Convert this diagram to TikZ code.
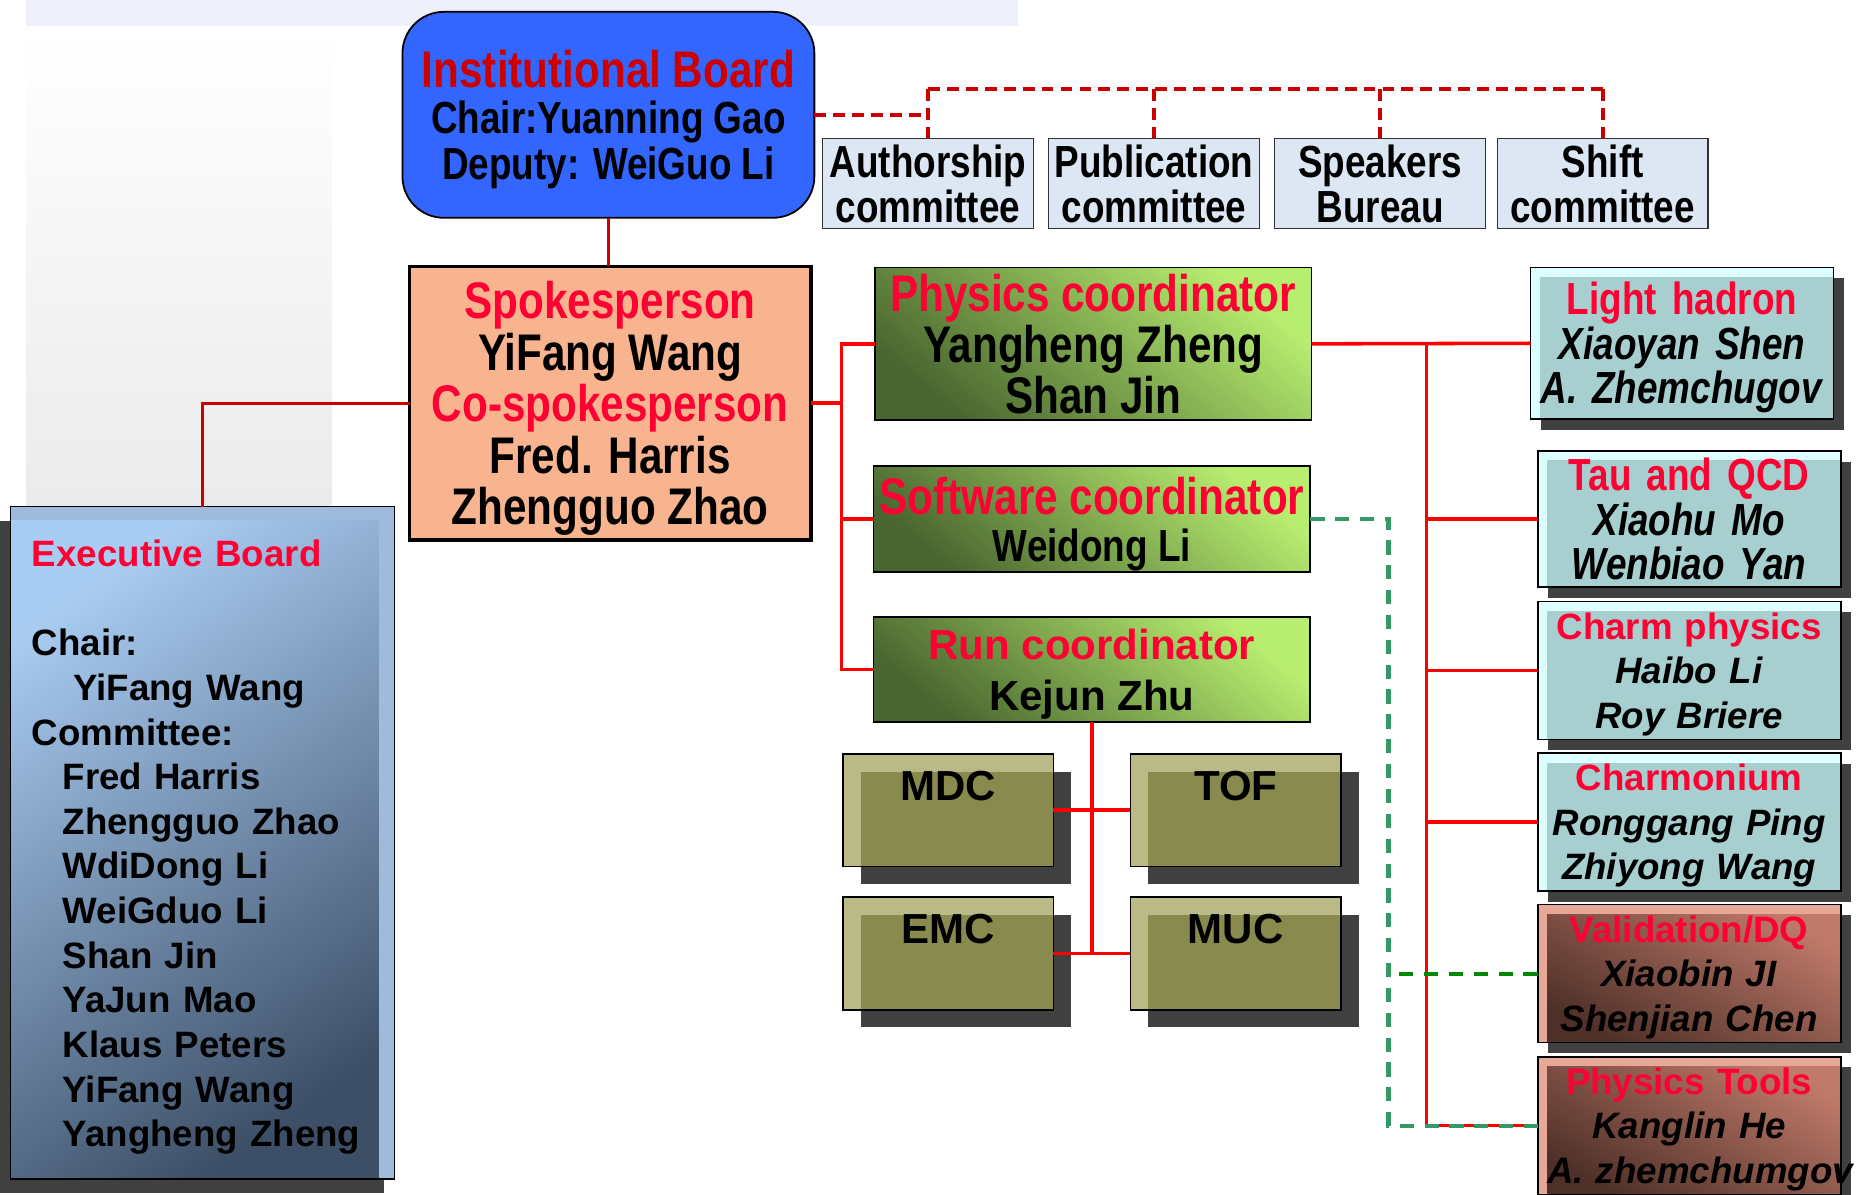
\documentclass[tikz,border=0pt]{standalone}
\usepackage{fontspec}
\setmainfont{Liberation Sans}
\newfontfamily\narrowf[FakeStretch=0.82]{Liberation Sans}
\usepackage{xcolor}
\usepackage{tikz}
\usetikzlibrary{positioning}
\usetikzlibrary{shadows}
\setlength{\parindent}{0pt}
\definecolor{boardblue}{HTML}{3366FF}
\definecolor{darkred}{HTML}{CC0000}
\definecolor{titlered}{HTML}{FF0033}
\definecolor{brightred}{HTML}{FF0000}
\definecolor{spfill}{HTML}{F7B48F}
\definecolor{commfill}{HTML}{DCE7F3}
\definecolor{lightgreen}{HTML}{B8EE70}
\definecolor{darkgreen}{HTML}{4A6630}
\definecolor{olivelight}{HTML}{B9BA86}
\definecolor{olivedark}{HTML}{888A4E}
\definecolor{shadowgray}{HTML}{404040}
\definecolor{cyanlight}{HTML}{DDFFFF}
\definecolor{cyandark}{HTML}{A8CFCF}
\definecolor{brownlight}{HTML}{E8A898}
\definecolor{browntop}{HTML}{C07A6A}
\definecolor{brownbot}{HTML}{4E3028}
\definecolor{execlight}{HTML}{A9CCF2}
\definecolor{execdark}{HTML}{3D4F67}
\definecolor{execframe}{HTML}{9FBBDB}
\definecolor{bandblue}{HTML}{EEF1FB}
\definecolor{seagreen}{HTML}{339966}
\definecolor{dashgreen}{HTML}{008800}
\tikzset {
  % one point per pixel, y runs downwards
  x=1pt, y=-1pt,
  % institutional board
  board/.style={draw, line width=1.5pt, fill=boardblue, rounded corners=35pt,
    minimum width=348pt, minimum height=174pt, align=center, outer sep=0pt, text depth=0pt,
    font=\narrowf\bfseries\fontsize{38}{39}\selectfont},
  % committees under the board
  comm/.style={draw=black!80, line width=1pt, fill=commfill, minimum width=178pt,
    minimum height=76pt, inner sep=2pt, align=center, outer sep=0pt,
    font=\narrowf\bfseries\fontsize{38}{38}\selectfont},
  % spokesperson box
  spokes/.style={draw, line width=3pt, fill=spfill, minimum width=339pt,
    minimum height=231pt, align=center, outer sep=0pt, text depth=0pt,
    font=\narrowf\bfseries\fontsize{43.5}{43.5}\selectfont},
  % executive board with its shadow
  exec/.style={draw, line width=1pt, fill=execframe, minimum height=568pt,
    text width=288pt, inner xsep=18pt, align=left, outer sep=0pt, text height=30pt,
    drop shadow={shadow xshift=-9pt, shadow yshift=-12pt, fill=shadowgray, opacity=1},
    path picture={\shade[top color=execlight, bottom color=execdark, shading angle=35]
      ([yshift=-12pt]path picture bounding box.north west) rectangle
      ([xshift=-13pt]path picture bounding box.south east);},
    font=\bfseries\fontsize{31}{37.7}\selectfont},
  % green coordinator boxes
  coord/.style={draw, line width=1.5pt, top color=lightgreen, bottom color=darkgreen,
    shading angle=-40, minimum width=369pt, align=center, outer sep=0pt, text depth=0pt},
  bignarrow/.style={font=\narrowf\bfseries\fontsize{43.5}{43}\selectfont},
  bigwide/.style={font=\bfseries\fontsize{35.5}{43}\selectfont},
  % sub-detectors
  det/.style={draw, line width=1.5pt, fill=olivelight, minimum width=178pt,
    minimum height=95pt, inner sep=6pt, text height=33pt, text depth=49pt, outer sep=0pt,
    drop shadow={shadow xshift=15pt, shadow yshift=-15pt, fill=shadowgray, opacity=1},
    path picture={\fill[olivedark] ([xshift=15pt,yshift=-15pt]path picture bounding box.north west)
      rectangle (path picture bounding box.south east);},
    font=\bfseries\fontsize{35.5}{35.5}\selectfont},
  % physics groups
  group/.style={draw, line width=1.5pt, fill=cyanlight, text width=240pt, inner xsep=8pt,
    minimum height=115pt, align=center, outer sep=0pt,
    drop shadow={shadow xshift=9pt, shadow yshift=-9pt, fill=shadowgray, opacity=1},
    path picture={\fill[cyandark] ([xshift=8pt,yshift=-8pt]path picture bounding box.north west)
      rectangle (path picture bounding box.south east);}},
  valid/.style={group, fill=brownlight,
    path picture={\shade[top color=browntop, bottom color=brownbot, shading angle=-30]
      ([xshift=8pt,yshift=-8pt]path picture bounding box.north west)
      rectangle (path picture bounding box.south east);}},
  narrowtext/.style={font=\narrowf\bfseries\fontsize{38}{37.5}\selectfont},
  widetext/.style={text height=28.5pt, font=\bfseries\fontsize{31}{37.5}\selectfont},
  % connectors
  redline/.style={darkred, line width=2.5pt},
  reddash/.style={darkred, line width=3.5pt, dash pattern=on 10pt off 6pt},
  physline/.style={brightred, line width=3pt},
  greendash/.style={seagreen, line width=3.5pt, dash pattern=on 12pt off 9pt},
}
\begin{document}
\begin{tikzpicture}
  \useasboundingbox (0,0) rectangle (1568,1009);
  \fill[bandblue] (22,0) rectangle (860,22);
  \shade[top color=white, bottom color=black!8] (22,22) rectangle (280,430);

  \node[board] (ib) at (514,97) {{\fontsize{43.5}{39}\selectfont\color{darkred}Institutional Board}\\
    Chair:Yuanning Gao\\ Deputy: WeiGuo Li};

  \node[comm] (auth) at (784,155) {Authorship\\committee};
  \node[comm] (pub) [right=13pt of auth] {Publication\\committee};
  \node[comm] (spk) [right=13pt of pub] {Speakers\\Bureau};
  \node[comm] (shift) [right=10pt of spk] {Shift\\committee};

  \node[spokes] (sp) at (515.5,340.5) {\textcolor{titlered}{Spokesperson}\\ YiFang Wang\\
    \textcolor{titlered}{Co-spokesperson}\\ Fred. Harris\\ Zhengguo Zhao};

  \node[exec] (eb) at (171,712) {\textcolor{titlered}{Executive Board}\\
    \mbox{}\\
    Chair:\\
    \hspace*{35pt}YiFang Wang\\
    Committee:\\
    \hspace*{26pt}Fred Harris\\
    \hspace*{26pt}Zhengguo Zhao\\
    \hspace*{26pt}WdiDong Li\\
    \hspace*{26pt}WeiGduo Li\\
    \hspace*{26pt}Shan Jin\\
    \hspace*{26pt}YaJun Mao\\
    \hspace*{26pt}Klaus Peters\\
    \hspace*{26pt}YiFang Wang\\
    \hspace*{26pt}Yangheng Zheng};

  \node[coord, bignarrow, minimum height=129pt] (phys) at (923.5,290.5)
    {\textcolor{titlered}{Physics coordinator}\\ Yangheng Zheng\\ Shan Jin};
  \node[coord, bignarrow, minimum height=89pt, font=\narrowf\bfseries\fontsize{38}{40}\selectfont] (soft) at (922.5,438.5)
    {{\fontsize{43.5}{40}\selectfont\color{titlered}Software coordinator}\\ Weidong Li};
  \node[coord, bigwide, minimum height=89pt] (run) at (922.5,565.5)
    {\textcolor{titlered}{Run coordinator}\\ Kejun Zhu};

  \node[det] (mdc) at (801,684.5) {MDC};
  \node[det] (tof) [right=65pt of mdc] {TOF};
  \node[det] (emc) [below=26pt of mdc] {EMC};
  \node[det] (muc) [right=65pt of emc] {MUC};

  \node[group, narrowtext, minimum height=128pt, text height=35pt] (lh) at (1421,290)
    {\textcolor{titlered}{Light hadron}\\ \textit{Xiaoyan Shen}\\ \textit{A. Zhemchugov}};
  \node[group, narrowtext] (tau) at (1427,438.5)
    {\textcolor{titlered}{Tau and QCD}\\ \textit{Xiaohu Mo}\\ \textit{Wenbiao Yan}};
  \node[group, widetext] (charm) at (1427,566.5)
    {\textcolor{titlered}{Charm physics}\\ \textit{Haibo Li}\\ \textit{Roy Briere}};
  \node[group, widetext] (onium) at (1427,694.5)
    {\textcolor{titlered}{Charmonium}\\ \textit{Ronggang Ping}\\ \textit{Zhiyong Wang}};
  \node[valid, widetext] (val) at (1427,822.5)
    {\textcolor{titlered}{Validation/DQ}\\ \textit{Xiaobin JI}\\ \textit{Shenjian Chen}};
  \node[valid, widetext, minimum height=116pt] (tools) at (1427,951)
    {\textcolor{titlered}{Physics Tools}\\ \textit{Kanglin He}\\ \mbox{\textit{A. zhemchumgov}}};

  \coordinate (cbar) at (0,75);
  \coordinate (cbus) at (711,0);
  \coordinate (pbus) at (1205,0);
  \coordinate (gbus) at (1173,0);

  \draw[redline] (ib.south) -- (ib.south |- sp.north);
  \draw[redline] (sp.west) -| (eb.north);
  \draw[reddash] (ib.east) -- (ib.east -| auth.north);
  \draw[reddash] (auth.north |- cbar) -- (shift.north |- cbar);
  \foreach \c in {auth,pub,spk,shift}
    \draw[reddash] (\c.north |- cbar) -- (\c.north);

  \draw[physline] (sp.east) -- (sp.east -| cbus);
  \draw[physline] (phys.west) -- (phys.west -| cbus) |- (run.west);
  \draw[physline] (soft.west) -- (soft.west -| cbus);
  \draw[physline] (run.south) -- (run.south |- emc.east);
  \draw[physline] (mdc.east) -- (tof.west);
  \draw[physline] (emc.east) -- (muc.west);
  \draw[physline] (phys.east) -- (lh.west);
  \draw[physline] (phys.east -| pbus) |- (tools.west);
  \foreach \g in {tau,charm,onium}
    \draw[physline] (\g.west) -- (\g.west -| pbus);

  \draw[greendash] (soft.east) -- (soft.east -| gbus) |- (tools.west);
  \draw[greendash, dashgreen] (val.west) -- (val.west -| gbus);
\end{tikzpicture}
\end{document}
